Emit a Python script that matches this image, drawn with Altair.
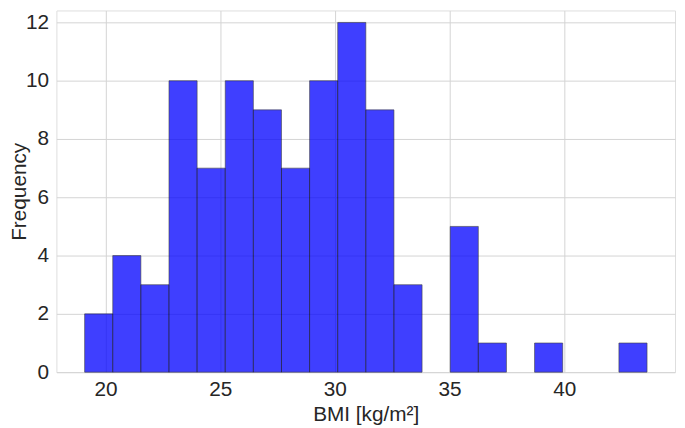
import altair as alt
import pandas as pd

# Histogram of BMI values
bmi_min = 19.09
bmi_max = 43.61
counts = [2, 4, 3, 10, 7, 10, 9, 7, 10, 12, 9, 3, 0, 5, 1, 0, 1, 0, 0, 1]
x_ticks = [20, 25, 30, 35, 40]
y_ticks = [0, 2, 4, 6, 8, 10, 12]

n_bins = len(counts)
step = (bmi_max - bmi_min) / n_bins
df = pd.DataFrame({
    "bin_start": [bmi_min + i * step for i in range(n_bins)],
    "bin_end": [bmi_min + (i + 1) * step for i in range(n_bins)],
    "count": counts,
})
df = df[df["count"] > 0]

FONT = "Liberation Sans"
TXT = "#262626"

chart = (
    alt.Chart(df)
    .mark_rect(color="#0000ff", opacity=0.75, stroke="#000000", strokeWidth=0.6)
    .encode(
        x=alt.X(
            "bin_start:Q",
            scale=alt.Scale(domain=[17.86, 44.83], nice=False, zero=False),
            axis=alt.Axis(
                values=x_ticks,
                title="BMI [kg/m²]",
                labelFontSize=21,
                titleFontSize=21,
                labelPadding=7,
                titlePadding=4,
                tickSize=0,
                domain=False,
                labelColor=TXT,
                titleColor=TXT,
                titleFontWeight="normal",
                labelFont=FONT,
                titleFont=FONT,
                gridColor="#d3d3d3",
                gridWidth=1,
            ),
        ),
        x2="bin_end:Q",
        y=alt.Y(
            "count:Q",
            scale=alt.Scale(domain=[0, 12.41], nice=False),
            axis=alt.Axis(
                values=y_ticks,
                title="Frequency",
                labelFontSize=21,
                titleFontSize=21,
                labelPadding=8,
                titlePadding=-4,
                tickSize=0,
                domain=False,
                labelColor=TXT,
                titleColor=TXT,
                titleFontWeight="normal",
                labelFont=FONT,
                titleFont=FONT,
                gridColor="#d3d3d3",
                gridWidth=1,
            ),
        ),
        y2=alt.datum(0),
    )
    .properties(
        width=626,
        height=366,
        autosize=alt.AutoSizeParams(type="none"),
        padding={"left": 49, "top": 0, "right": 2, "bottom": 54},
    )
    .configure_view(stroke="#cccccc", strokeWidth=1)
    .configure(background="white")
)

chart.save("out.html", embed_options={"renderer": "svg", "actions": False})
